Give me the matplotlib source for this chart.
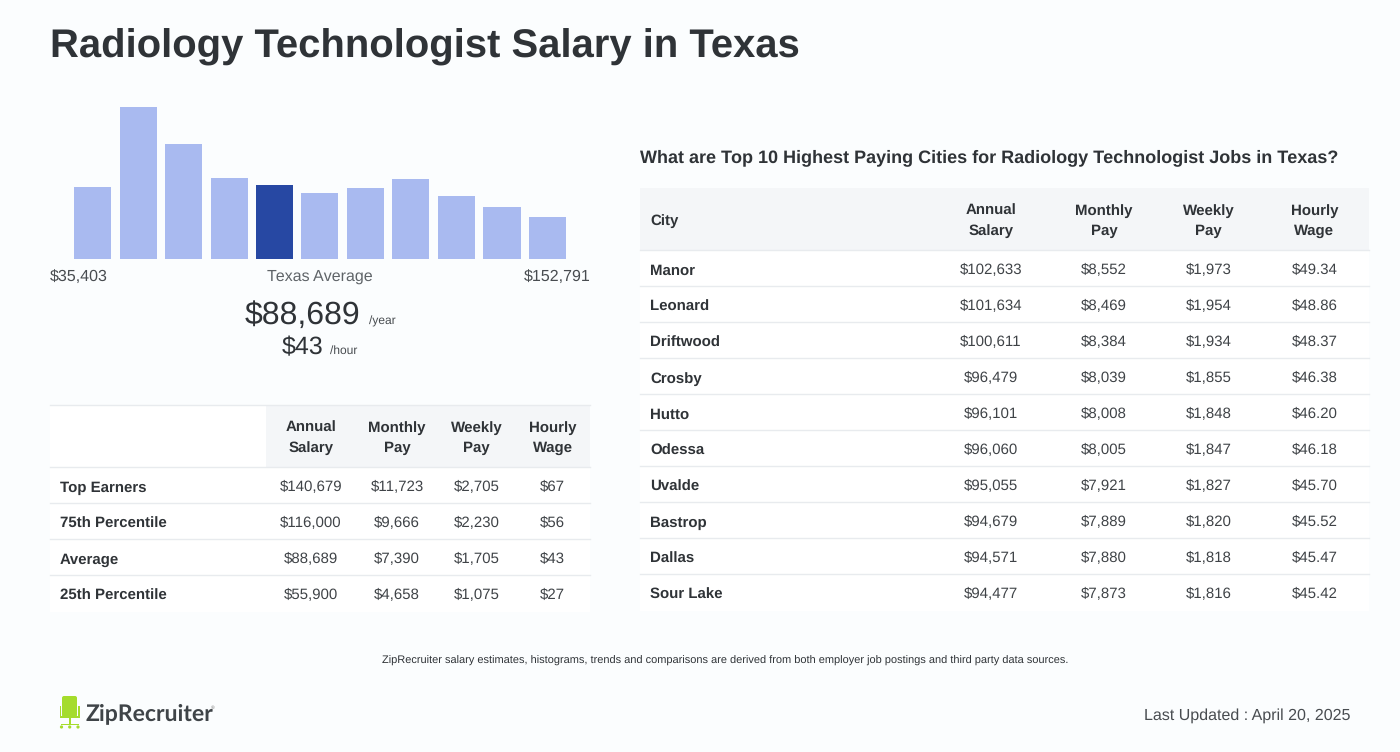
import matplotlib
matplotlib.use("Agg")
import matplotlib.pyplot as plt
from matplotlib.patches import Rectangle, FancyBboxPatch, Circle

plt.rcParams['font.family'] = ['Liberation Sans', 'DejaVu Sans']
plt.rcParams['text.hinting'] = 'none'
plt.rcParams['text.hinting_factor'] = 1

W, H = 1400, 752
BG = '#fbfdfe'; DARK = '#2f3337'; TXT = '#3f4347'
LIGHT = '#a9baf0'; STRONG = '#2748a3'

hist_values = [72, 152, 115, 81, 74, 66, 71, 80, 63, 52, 42]
avg_bin = 4

left_cols = ['Annual\nSalary', 'Monthly\nPay', 'Weekly\nPay', 'Hourly\nWage']
left_rows = ['Top Earners', '75th Percentile', 'Average', '25th Percentile']
left_annual = ['$140,679', '$116,000', '$88,689', '$55,900']
left_monthly = ['$11,723', '$9,666', '$7,390', '$4,658']
left_weekly = ['$2,705', '$2,230', '$1,705', '$1,075']
left_hourly = ['$67', '$56', '$43', '$27']

cities = ['Manor', 'Leonard', 'Driftwood', 'Crosby', 'Hutto', 'Odessa', 'Uvalde', 'Bastrop', 'Dallas', 'Sour Lake']
city_annual = ['$102,633', '$101,634', '$100,611', '$96,479', '$96,101', '$96,060', '$95,055', '$94,679', '$94,571', '$94,477']
city_monthly = ['$8,552', '$8,469', '$8,384', '$8,039', '$8,008', '$8,005', '$7,921', '$7,889', '$7,880', '$7,873']
city_weekly = ['$1,973', '$1,954', '$1,934', '$1,855', '$1,848', '$1,847', '$1,827', '$1,820', '$1,818', '$1,816']
city_hourly = ['$49.34', '$48.86', '$48.37', '$46.38', '$46.20', '$46.18', '$45.70', '$45.52', '$45.47', '$45.42']

def px(s):
    return s * 0.72

fig = plt.figure(figsize=(W / 100, H / 100), dpi=100, facecolor=BG)
ax = fig.add_axes([0, 0, 1, 1])
ax.set_xlim(0, W); ax.set_ylim(H, 0); ax.axis('off')

def T(x, y, s, size, color=TXT, weight='normal', ha='center', va='baseline', **kw):
    return ax.text(x, y, s, fontsize=px(size), color=color, fontweight=weight, ha=ha, va=va, linespacing=1.55, **kw)

T(50, 58, 'Radiology Technologist Salary in Texas', 40, DARK, 'bold', ha='left')

# histogram
hx = fig.add_axes([74 / W, 1 - 259 / H, 492 / W, 160 / H])
hx.set_facecolor('none')
colors = [STRONG if i == avg_bin else LIGHT for i in range(len(hist_values))]
hx.bar(range(len(hist_values)), hist_values, width=37 / 45.5, color=colors)
hx.set_xlim(-37 / 91, len(hist_values) - 1 + 37 / 91)
hx.set_ylim(0, 160)
hx.axis('off')

T(50, 281, '$35,403', 16, '#484c50', ha='left')
T(320, 281, 'Texas Average', 16, '#5f6468')
T(590.5, 281, '$152,791', 16, '#484c50', ha='right')
T(360, 324, '$88,689', 32, DARK, ha='right')
T(369, 325, '/year', 12, '#484c50', ha='left')
T(323, 354, '$43', 24.6, DARK, ha='right')
T(330, 354, '/hour', 12, '#484c50', ha='left')

LINE = '#e8ebee'; HEAD = '#f4f6f8'
ROW_SHIFT = 0.45

# left table
ax.add_patch(Rectangle((50, 405), 540, 207, fc='white', ec='none'))
ax.add_patch(Rectangle((266, 405), 324, 62, fc=HEAD, ec='none'))
ax.plot([50, 590], [405, 405], color=LINE, lw=1)
left_x = [311, 397, 476.5, 552.5]
for x, c in zip(left_x, left_cols):
    T(x, 452, c, 15, DARK, 'bold')
left_y = [491, 527, 563, 599]
ax.plot([50, 590], [467, 467], color=LINE, lw=1)
for i, y in enumerate(left_y):
    T(60, y + ROW_SHIFT, left_rows[i], 15, DARK, 'bold', ha='left')
    for x, col in zip(left_x, [left_annual, left_monthly, left_weekly, left_hourly]):
        T(x, y, col[i], 15, TXT)
    if i < 3:
        ax.plot([50, 590], [y + 12, y + 12], color=LINE, lw=1)

# right table
T(639.7, 162.4, 'What are Top 10 Highest Paying Cities for Radiology Technologist Jobs in Texas?', 18, DARK, 'bold', ha='left')
ax.add_patch(Rectangle((640, 250), 729, 361, fc='white', ec='none'))
ax.add_patch(Rectangle((640, 188), 729, 62, fc=HEAD, ec='none'))
ax.plot([640, 1369], [250, 250], color=LINE, lw=1)
right_x = [991, 1104, 1208.7, 1314.3]
T(650, 225, 'City', 15, DARK, 'bold', ha='left')
for x, c in zip(right_x, left_cols):
    T(x, 235, c, 15, DARK, 'bold')
for i, name in enumerate(cities):
    y = 274 + 36 * i
    T(650, y + ROW_SHIFT, name, 15, DARK, 'bold', ha='left')
    for x, col in zip(right_x, [city_annual, city_monthly, city_weekly, city_hourly]):
        T(x, y, col[i], 15, TXT)
    if i < 9:
        ax.plot([640, 1369], [y + 12, y + 12], color=LINE, lw=1)

# footnote
T(725, 664, 'ZipRecruiter salary estimates, histograms, trends and comparisons are derived from both employer job postings and third party data sources.', 11, DARK)
T(1350, 720, 'Last Updated : April 20, 2025', 16, '#484c50', ha='right')

# logo
G = '#a5dc2c'
ax.add_patch(FancyBboxPatch((62, 696), 15, 21, boxstyle='round,pad=0,rounding_size=2', fc=G, ec='none'))
ax.add_patch(Rectangle((59.5, 706), 1.5, 11, fc=G, ec='none'))
ax.add_patch(Rectangle((78, 706), 1.5, 11, fc=G, ec='none'))
ax.add_patch(Rectangle((59.5, 716), 20, 2, fc=G, ec='none'))
ax.add_patch(Rectangle((68.5, 717), 2.5, 7, fc=G, ec='none'))
ax.add_patch(Rectangle((60.5, 723.5), 18.5, 1.6, fc=G, ec='none'))
for cx in (61.5, 69.7, 78):
    ax.add_patch(Circle((cx, 727), 1.6, fc=G, ec='none'))
ax.text(85.5, 720, 'ZipRecruiter', fontsize=px(23), color='#3f4448', fontfamily='Lato',
        fontweight='bold', ha='left', va='baseline')
ax.text(212.5, 709, '®', fontsize=px(5.5), color='#777777', ha='center', va='baseline')

fig.savefig('out.png', dpi=100, facecolor=BG)
